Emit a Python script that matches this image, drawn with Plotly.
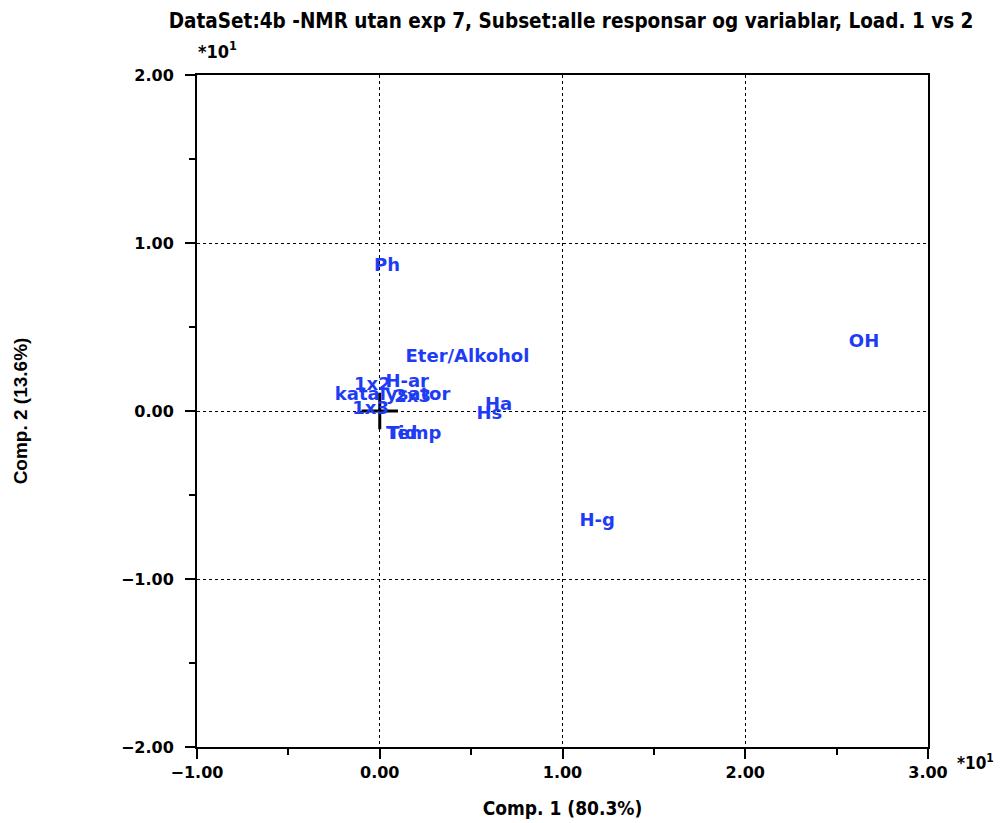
import plotly.graph_objects as go

labels = ["Ph", "OH", "Eter/Alkohol", "H-g", "Ha", "Hs", "Tid", "Temp",
          "katalysator", "2x3", "1x2", "H-ar", "1x3"]
comp1 = [0.04, 2.65, 0.48, 1.19, 0.65, 0.60, 0.12, 0.19,
         0.07, 0.18, -0.04, 0.15, -0.05]
comp2 = [0.86, 0.41, 0.32, -0.66, 0.03, -0.02, -0.14, -0.14,
         0.09, 0.08, 0.15, 0.17, 0.01]

title = "DataSet:4b -NMR utan exp 7, Subset:alle responsar og variablar, Load. 1 vs 2"
xtitle = "Comp. 1 (80.3%)"
ytitle = "Comp. 2 (13.6%)"
xticks = [-1, 0, 1, 2, 3]
yticks = [-2, -1, 0, 1, 2]

narrow = "DejaVu Sans Condensed, Liberation Sans Narrow, Liberation Sans"
wide = "DejaVu Sans, Verdana"
blue = "#1f3cf5"

fig = go.Figure()
fig.add_trace(go.Scatter(
    x=[0], y=[0], mode="markers",
    marker=dict(symbol="cross-thin", size=26, line=dict(width=3, color="black")),
    hoverinfo="skip", showlegend=False))
fig.add_trace(go.Scatter(
    x=comp1, y=comp2, text=labels, mode="text", textposition="middle center",
    textfont=dict(family=wide, size=18, color=blue, weight="bold"),
    showlegend=False))

axis_common = dict(
    showline=True, linewidth=2, linecolor="black", mirror=True,
    ticks="outside", ticklen=10, tickwidth=2, tickcolor="black",
    showgrid=True, gridcolor="black", griddash="dot", gridwidth=1,
    zeroline=False, tickformat=".2f",
    tickfont=dict(family=wide, size=16, color="black", weight="bold"),
    minor=dict(ticks="outside", ticklen=6, tickwidth=2, tickcolor="black", dtick=0.5, showgrid=False),
)
fig.update_xaxes(range=[-1, 3], tickvals=xticks, **axis_common,
                 title=dict(text=xtitle, font=dict(family=narrow, size=19, weight="bold", color="black"), standoff=20))
fig.update_yaxes(range=[-2, 2], tickvals=yticks, ticklabelstandoff=8, **axis_common,
                 title=dict(text=ytitle, font=dict(family="Liberation Sans, Arial", size=19, weight="bold", color="black"), standoff=88))

fig.update_layout(
    width=1002, height=823,
    margin=dict(l=185, r=82, t=67, b=84),
    plot_bgcolor="white", paper_bgcolor="white",
    title=dict(text=title, xref="container", x=0.562, xanchor="center",
               yref="container", y=0.985, yanchor="middle",
               font=dict(family=narrow, size=20.5, weight="bold", color="black")),
    annotations=[
        dict(text="*10<sup>1</sup>", xref="paper", yref="paper", x=0.0, y=1.0,
             xanchor="left", yanchor="middle", yshift=25, xshift=-1, showarrow=False,
             font=dict(family=narrow, size=18, weight="bold", color="black")),
        dict(text="*10<sup>1</sup>", xref="paper", yref="paper", x=1.0, y=0.0,
             xanchor="left", yanchor="middle", xshift=27, yshift=-15, showarrow=False,
             font=dict(family=narrow, size=17, weight="bold", color="black")),
    ],
)
fig.write_html("out.html")
